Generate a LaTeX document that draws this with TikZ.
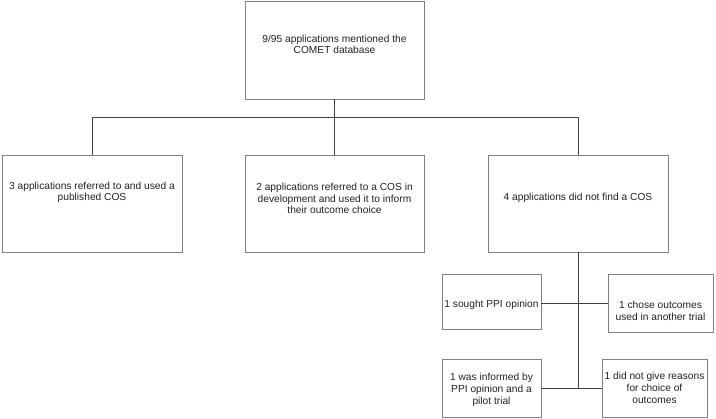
\documentclass[tikz,border=0pt]{standalone}
\usepackage{fontspec}
\setmainfont{Liberation Sans}
\definecolor{boxline}{HTML}{808080}
\definecolor{conn}{HTML}{404040}
\definecolor{txt}{HTML}{222222}
\begin{document}
\begin{tikzpicture}[x=1pt,y=-1pt,
  box/.style={draw=boxline, line width=0.8pt, fill=white, inner sep=0pt},
  lbl/.style={align=center, text=txt, font=\fontsize{10.2}{11.7}\selectfont, inner sep=0pt},
  conn/.style={draw=conn, line width=0.8pt}]
\useasboundingbox (0,0) rectangle (716,419);
% main boxes
\node[box, minimum width=179pt, minimum height=98pt,
  label={[lbl, yshift=5.5pt]center:{9/95 applications mentioned the\\COMET database}}]
  (top) at (334.5,50) {};
\node[box, minimum width=180pt, minimum height=97pt,
  label={[lbl, yshift=11pt]center:{3 applications referred to and used a\\published COS}}]
  (left) at (92,203.5) {};
\node[box, minimum width=179pt, minimum height=97pt,
  label={[lbl, yshift=5pt]center:{2 applications referred to a COS in\\development and used it to inform\\their outcome choice}}]
  (mid) at (334.5,203.5) {};
\node[box, minimum width=180pt, minimum height=97pt,
  label={[lbl, yshift=5.5pt]center:{4 applications did not find a COS}}]
  (right) at (578,203.5) {};
% sub boxes
\node[box, minimum width=99pt, minimum height=55pt,
  label={[lbl, yshift=-3.5pt]center:{1 sought PPI opinion}}]
  (ppi) at (491.5,301.5) {};
\node[box, minimum width=105pt, minimum height=58pt,
  label={[lbl, yshift=-8pt]center:{1 chose outcomes\\used in another trial}}]
  (chose) at (660.5,303) {};
\node[box, minimum width=99pt, minimum height=58pt,
  label={[lbl, yshift=-2pt]center:{1 was informed by\\PPI opinion and a\\pilot trial}}]
  (informed) at (491.5,388) {};
\node[box, minimum width=105pt, minimum height=58pt,
  label={[lbl]center:{1 did not give reasons\\for choice of\\outcomes}}]
  (reasons) at (654.5,388) {};
% connectors
\draw[conn] (top.south) -- (mid.north);
\draw[conn] (left.north) -- ++(0,-37) -| (right.north);
\draw[conn] (right.south) -- (right.south |- informed.east);
\draw[conn] (ppi.east |- chose.west) -- (chose.west);
\draw[conn] (informed.east) -- (reasons.west);
\end{tikzpicture}
\end{document}
